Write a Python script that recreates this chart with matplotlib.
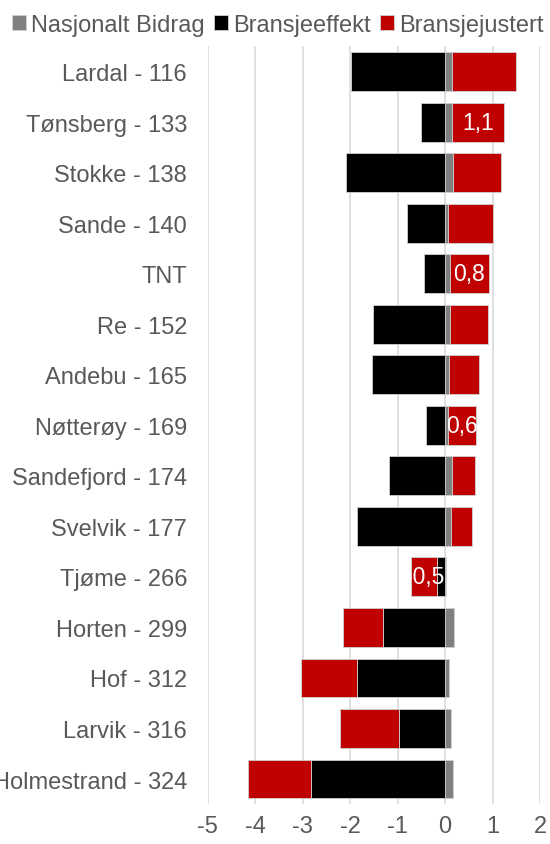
import numpy as np
import matplotlib
matplotlib.use("Agg")
import matplotlib.pyplot as plt

plt.rcParams['font.family'] = ['Liberation Sans', 'DejaVu Sans']
plt.rcParams['axes.unicode_minus'] = False

# kommuner, ovenfra og ned
kommuner = ['Lardal - 116', 'Tønsberg - 133', 'Stokke - 138', 'Sande - 140', 'TNT',
            'Re - 152', 'Andebu - 165', 'Nøtterøy - 169', 'Sandefjord - 174',
            'Svelvik - 177', 'Tjøme - 266', 'Horten - 299', 'Hof - 312',
            'Larvik - 316', 'Holmestrand - 324']
nasjonalt = [0.14, 0.14, 0.17, 0.06, 0.10, 0.10, 0.09, 0.06, 0.14, 0.12,
             0.02, 0.18, 0.09, 0.12, 0.16]
bransjeeffekt = [-1.99, -0.51, -2.08, -0.81, -0.45, -1.52, -1.55, -0.40, -1.19,
                 -1.85, -0.17, -1.30, -1.86, -0.97, -2.82]
bransjejustert = [1.36, 1.09, 1.00, 0.95, 0.82, 0.81, 0.63, 0.58, 0.48, 0.44,
                  -0.54, -0.85, -1.18, -1.25, -1.34]
# hvilke rader som har dataetikett på Bransjejustert
vis_etikett = [False, True, False, False, True, False, False, True, False, False,
               True, False, False, False, False]

serier = [('Nasjonalt Bidrag', nasjonalt, '#808080'),
          ('Bransjeeffekt', bransjeeffekt, '#000000'),
          ('Bransjejustert', bransjejustert, '#C00000')]

fig = plt.figure(figsize=(5.5, 8.45), dpi=100)
ax = fig.add_axes([0.378, 0.047, 0.604, 0.897])

y = np.arange(len(kommuner))
pos_base = np.zeros(len(kommuner))
neg_base = np.zeros(len(kommuner))
for navn, verdier, farge in serier:
    v = np.array(verdier)
    left = np.where(v >= 0, pos_base, neg_base)
    ax.barh(y, v, left=left, height=0.77, color=farge, edgecolor='#d0d0d0',
            linewidth=0.6, label=navn, zorder=3)
    if navn == 'Bransjejustert':
        for i in range(len(v)):
            if vis_etikett[i]:
                txt = f"{v[i]:.1f}".replace('.', ',')
                ax.text(left[i] + v[i] / 2, y[i], txt, color='white',
                        ha='center', va='center', fontsize=16.5, zorder=4)
    pos_base = pos_base + np.where(v >= 0, v, 0)
    neg_base = neg_base + np.where(v < 0, v, 0)

ax.set_xlim(-5, 2)
ax.set_ylim(len(kommuner) - 0.5, -0.5)
ax.set_xticks(range(-5, 3))
ax.set_yticks(y)
ax.set_yticklabels(kommuner)
ax.grid(axis='x', color='#d9d9d9', linewidth=1.2, zorder=0)
for s in ax.spines.values():
    s.set_visible(False)
ax.tick_params(axis='both', length=0, labelsize=17, colors='#595959')
ax.tick_params(axis='x', pad=8)
ax.tick_params(axis='y', pad=15)

fig.legend(loc='upper center', bbox_to_anchor=(0.505, 1.005), ncol=3, frameon=False,
           fontsize=17, handlelength=0.6, handleheight=0.6, handletextpad=0.2,
           columnspacing=0.4, labelcolor='#595959', borderpad=0.3)

fig.savefig('out.png', dpi=100)
